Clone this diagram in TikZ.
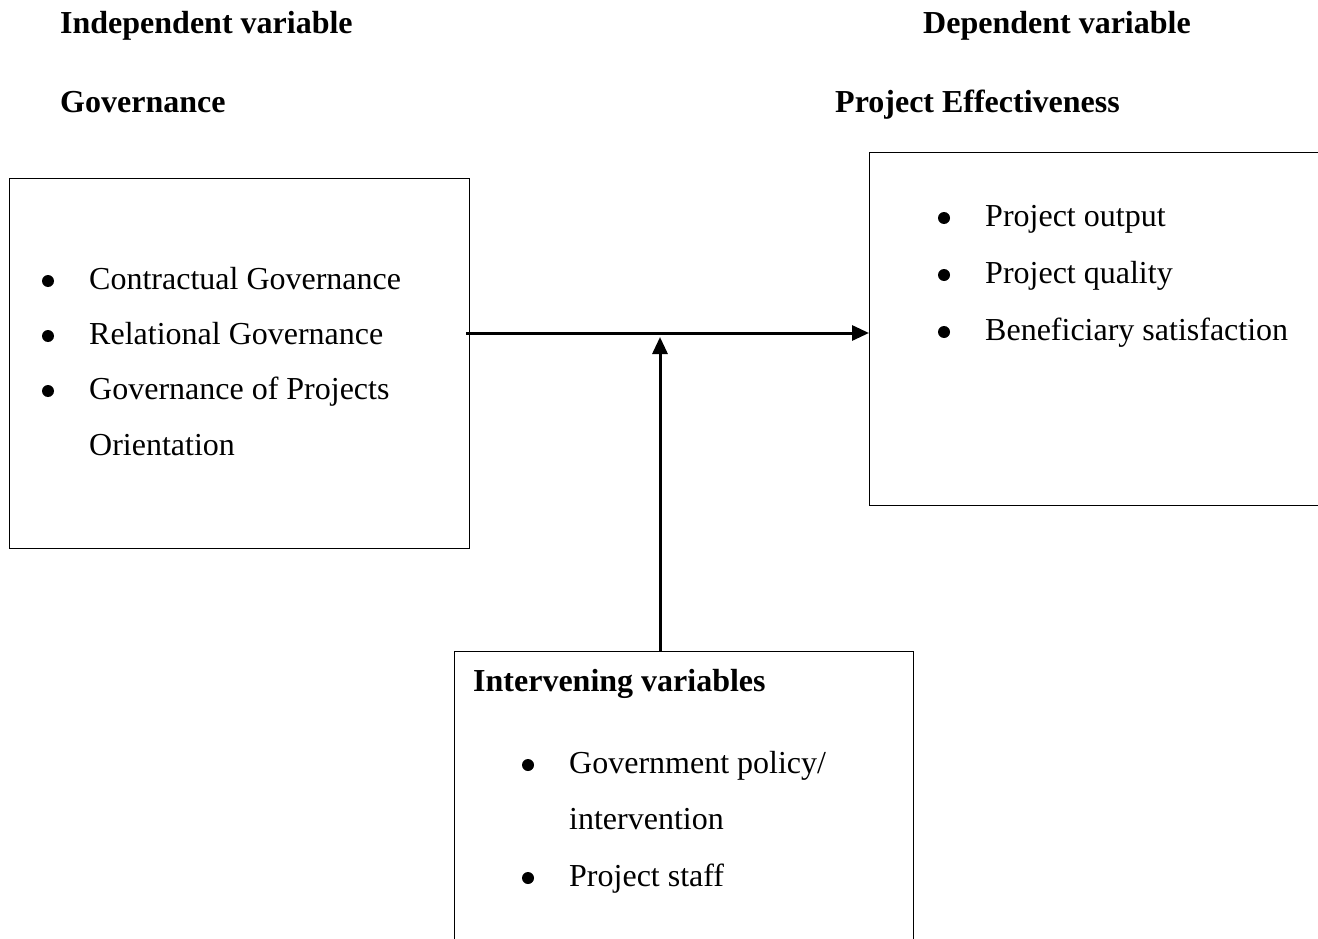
\documentclass[tikz,border=0pt]{standalone}
\usepackage{fontspec}
\setmainfont{Liberation Serif}
\usetikzlibrary{arrows.meta}

\begin{document}
\begin{tikzpicture}[x=1pt,y=-1pt,font=\fontsize{32}{38}\selectfont,
	box/.style={draw, line width=1.3pt, anchor=north west, inner sep=0pt},
	txt/.style={anchor=base west, inner sep=0pt},
	head/.style={txt, font=\fontsize{32}{38}\selectfont\bfseries},
	dot/.style={circle, fill, inner sep=0pt, minimum size=12pt, yshift=8pt},
	flow/.style={-{Triangle[length=17pt,width=15pt]}}]
			\useasboundingbox (0,0) rectangle (1318,939);
			
			% headings
			\node[head] (indep) at (60,34){Independent variable};
			\node[head] (gov) at (60,113){Governance};
			\node[head] (dep) at (923,34){Dependent variable};
			\node[head] (eff) at (835,113){Project Effectiveness};
			
			% boxes
			\node[box, minimum width=460pt, minimum height=370pt] (govbox) at (9,178){};
			\node[box, minimum width=520pt, minimum height=353pt] (effbox) at (869,152){};
			\node[box, minimum width=459pt, minimum height=330pt] (intbox) at (454,651){};
			
			% governance items
			\node[dot] (g1) at (48,289){};
			\node[txt] (gt1) at (89,289){Contractual Governance};
			\node[dot] (g2) at (48,344){};
			\node[txt] (gt2) at (89,344){Relational Governance};
			\node[dot] (g3) at (48,399){};
			\node[txt] (gt3) at (89,399){Governance of Projects};
			\node[txt] (gt4) at (89,455){Orientation};
			
			% effectiveness items
			\node[dot] (e1) at (944,226){};
			\node[txt] (et1) at (985,226){Project output};
			\node[dot] (e2) at (944,283){};
			\node[txt] (et2) at (985,283){Project quality};
			\node[dot] (e3) at (944,340){};
			\node[txt] (et3) at (985,340){Beneficiary satisfaction};
			
			% intervening items
			\node[head] (int) at (473,691){Intervening variables};
			\node[dot] (i1) at (528,773){};
			\node[txt] (it1) at (569,773){Government policy/};
			\node[txt] (it2) at (569,829){intervention};
			\node[dot] (i2) at (528,886){};
			\node[txt] (it3) at (569,886){Project staff};
			
			% arrows
			\coordinate (link) at (660,333);
			\coordinate (meet) at (660,337);
			\draw[flow, line width=3pt] ([xshift=-4pt]link -| govbox.east) -- (link -| effbox.west);
			\draw[flow, line width=3pt] (meet |- intbox.north) -- (meet);
		\end{tikzpicture}
\end{document}
